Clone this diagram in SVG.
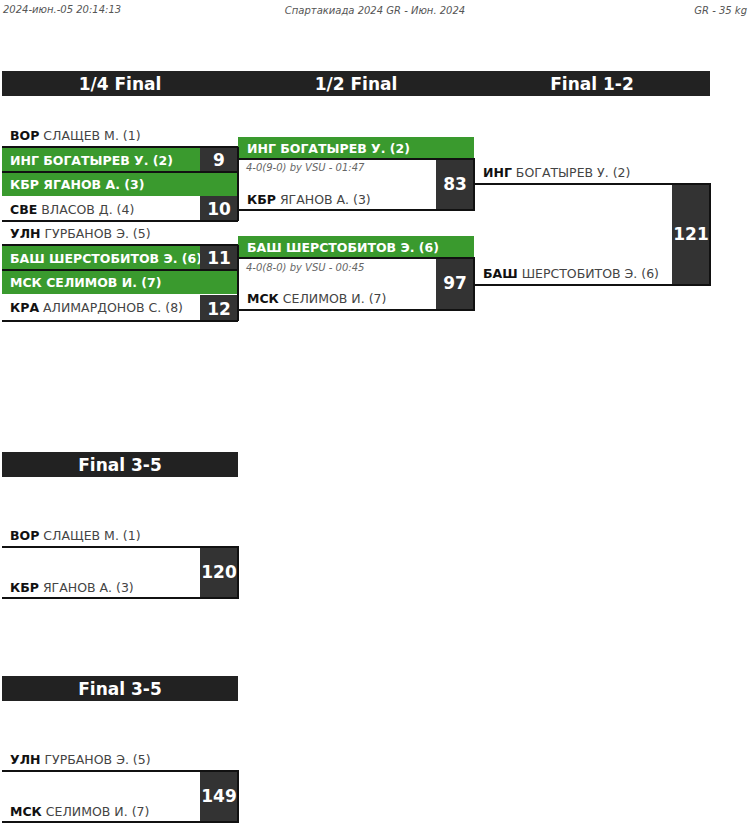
<svg xmlns="http://www.w3.org/2000/svg" width="750" height="826" viewBox="0 0 750 826">
<style>
text{font-family:"DejaVu Sans",sans-serif}
.meta{font-size:10px;font-style:italic;fill:#555}
.hd{fill:#222}
.ht{font-size:17px;font-weight:bold;fill:#fff;text-anchor:middle}
.g{fill:#3a9a2e}
.gt{font-size:12.5px;font-weight:bold;fill:#fff}
.n{font-size:12.5px;fill:#444}
.n tspan{font-weight:bold;fill:#111}
.box{fill:#333}
.sc{font-size:17px;font-weight:bold;fill:#fff;text-anchor:middle}
.ln{stroke:#111;stroke-width:2;fill:none}
.it{font-size:10px;font-style:italic;fill:#666}
</style>
<text class="meta" x="3" y="13">2024-июн.-05 20:14:13</text>
<text class="meta" x="375" y="14" text-anchor="middle">Спартакиада 2024 GR - Июн. 2024</text>
<text class="meta" x="747" y="14" text-anchor="end">GR - 35 kg</text>
<g id="headers">
<rect class="hd" x="2" y="71" width="708" height="25"/>
<text class="ht" x="120" y="90">1/4 Final</text>
<text class="ht" x="356" y="90">1/2 Final</text>
<text class="ht" x="592" y="90">Final 1-2</text>
<rect class="hd" x="2" y="452" width="236" height="25"/>
<text class="ht" x="120" y="471">Final 3-5</text>
<rect class="hd" x="2" y="676" width="236" height="25"/>
<text class="ht" x="120" y="695">Final 3-5</text>
</g>
<g id="qf1">
<rect class="g" x="2" y="148" width="236" height="24"/>
<text class="n" x="10" y="140"><tspan>ВОР</tspan> СЛАЩЕВ М. (1)</text>
<text class="gt" x="10" y="165">ИНГ БОГАТЫРЕВ У. (2)</text>
<rect class="box" x="200" y="147" width="38" height="25"/>
<text class="sc" x="219" y="166">9</text>
</g>
<g id="qf2">
<rect class="g" x="2" y="172" width="236" height="24"/>
<text class="gt" x="10" y="189">КБР ЯГАНОВ А. (3)</text>
<text class="n" x="10" y="214"><tspan>СВЕ</tspan> ВЛАСОВ Д. (4)</text>
<rect class="box" x="200" y="196" width="38" height="25"/>
<text class="sc" x="219" y="215">10</text>
</g>
<g id="qf3">
<rect class="g" x="2" y="246" width="236" height="24"/>
<text class="n" x="10" y="238"><tspan>УЛН</tspan> ГУРБАНОВ Э. (5)</text>
<text class="gt" x="10" y="263">БАШ ШЕРСТОБИТОВ Э. (6)</text>
<rect class="box" x="200" y="245" width="38" height="25"/>
<text class="sc" x="219" y="264">11</text>
</g>
<g id="qf4">
<rect class="g" x="2" y="270" width="236" height="24"/>
<text class="gt" x="10" y="287">МСК СЕЛИМОВ И. (7)</text>
<text class="n" x="10" y="312"><tspan>КРА</tspan> АЛИМАРДОНОВ С. (8)</text>
<rect class="box" x="200" y="295" width="38" height="26"/>
<text class="sc" x="219" y="315">12</text>
</g>
<g id="sf1">
<rect class="g" x="238" y="137" width="236" height="22"/>
<text class="gt" x="247" y="153">ИНГ БОГАТЫРЕВ У. (2)</text>
<text class="it" x="246" y="171">4-0(9-0) by VSU - 01:47</text>
<text class="n" x="247" y="204"><tspan>КБР</tspan> ЯГАНОВ А. (3)</text>
<rect class="box" x="436" y="159" width="38" height="51"/>
<text class="sc" x="455" y="190">83</text>
</g>
<g id="sf2">
<rect class="g" x="238" y="236" width="236" height="22"/>
<text class="gt" x="247" y="252">БАШ ШЕРСТОБИТОВ Э. (6)</text>
<text class="it" x="246" y="271">4-0(8-0) by VSU - 00:45</text>
<text class="n" x="247" y="303"><tspan>МСК</tspan> СЕЛИМОВ И. (7)</text>
<rect class="box" x="436" y="258" width="38" height="52"/>
<text class="sc" x="455" y="289">97</text>
</g>
<g id="final">
<text class="n" x="483" y="177"><tspan>ИНГ</tspan> БОГАТЫРЕВ У. (2)</text>
<text class="n" x="483" y="278"><tspan>БАШ</tspan> ШЕРСТОБИТОВ Э. (6)</text>
<rect class="box" x="672" y="184" width="38" height="101"/>
<text class="sc" x="691" y="240">121</text>
</g>
<g id="b1">
<text class="n" x="10" y="540"><tspan>ВОР</tspan> СЛАЩЕВ М. (1)</text>
<text class="n" x="10" y="592"><tspan>КБР</tspan> ЯГАНОВ А. (3)</text>
<rect class="box" x="200" y="547" width="38" height="51"/>
<text class="sc" x="219" y="578">120</text>
</g>
<g id="b2">
<text class="n" x="10" y="764"><tspan>УЛН</tspan> ГУРБАНОВ Э. (5)</text>
<text class="n" x="10" y="816"><tspan>МСК</tspan> СЕЛИМОВ И. (7)</text>
<rect class="box" x="200" y="771" width="38" height="51"/>
<text class="sc" x="219" y="802">149</text>
</g>
<g id="connectors" class="ln">
<path d="M2 147H238M2 172H238M2 221H238M2 245H238M2 270H238M2 321H238"/>
<path d="M238 147V172M238 196V221M238 245V270M238 295V321"/>
<path d="M238 159H474V210H238V159M238 258H474V310H238V258"/>
<path d="M474 184H710V285H474"/>
<path d="M2 547H238V598H2M2 771H238V822H2"/>
</g>
</svg>
